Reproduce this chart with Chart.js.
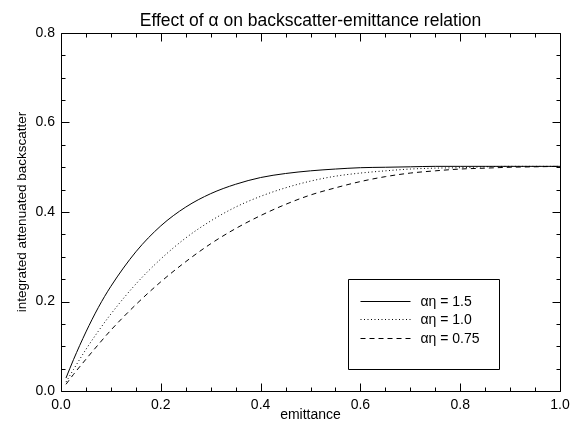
<!DOCTYPE html>
<html><head><meta charset="utf-8">
<script src="https://cdn.jsdelivr.net/npm/chart.js@4.4.1/dist/chart.umd.min.js"></script>
<style>html,body{margin:0;padding:0;background:#fff}#wrap{width:580px;height:424px}</style>
</head><body><div id="wrap"><canvas id="c" width="580" height="424"></canvas></div>
<script>
const emittance = [0.01,0.025,0.05,0.075,0.1,0.15,0.2,0.25,0.3,0.35,0.4,0.45,0.5,0.55,0.6,0.65,0.7,0.75,0.8,0.85,0.9,0.95,1.0];
const backscatterAE150 = [0.029,0.070,0.132,0.187,0.234,0.311,0.369,0.411,0.441,0.462,0.477,0.486,0.492,0.496,0.499,0.500,0.501,0.502,0.502,0.502,0.502,0.502,0.502];
const backscatterAE100 = [0.020,0.048,0.093,0.134,0.172,0.239,0.295,0.342,0.380,0.411,0.435,0.454,0.469,0.480,0.487,0.492,0.496,0.498,0.499,0.501,0.502,0.502,0.502];
const backscatterAE075 = [0.015,0.037,0.071,0.104,0.136,0.193,0.244,0.289,0.329,0.363,0.392,0.417,0.438,0.454,0.468,0.479,0.487,0.492,0.496,0.498,0.500,0.501,0.502];
const seriesLabels = ['αη = 1.5', 'αη = 1.0', 'αη = 0.75'];
const xTickValues = [0, 0.2, 0.4, 0.6, 0.8, 1.0];
const yTickValues = [0, 0.2, 0.4, 0.6, 0.8];
const titleText = 'Effect of α on backscatter-emittance relation';
const xTitleText = 'emittance';
const yTitleText = 'integrated attenuated backscatter';

const FONT = "'Liberation Sans', Arial, Helvetica, sans-serif";
Chart.defaults.font.family = FONT;
Chart.defaults.color = '#000';

const dashes = [[], [1, 2.5], [5, 4]];
const seriesValues = [backscatterAE150, backscatterAE100, backscatterAE075];

const datasets = seriesValues.map((vals, k) => ({
  label: seriesLabels[k],
  data: emittance.map((x, i) => ({x: x, y: vals[i]})),
  borderColor: '#000',
  borderWidth: 1,
  borderDash: dashes[k],
  pointRadius: 0,
  fill: false,
  cubicInterpolationMode: 'monotone'
}));

const framePlugin = {
  id: 'frame',
  afterDraw(chart) {
    const ctx = chart.ctx;
    const a = chart.chartArea;
    const xs = chart.scales.x, ys = chart.scales.y;
    ctx.save();
    ctx.strokeStyle = '#000';
    ctx.lineWidth = 1;
    ctx.setLineDash([]);
    const L = Math.round(a.left) + 0.5, R = Math.round(a.right) + 0.5;
    const T = Math.round(a.top) + 0.5, B = Math.round(a.bottom) + 0.5;
    ctx.beginPath();
    ctx.rect(L, T, R - L, B - T);
    ctx.stroke();
    // inward ticks every 0.05
    ctx.beginPath();
    for (let i = 0; i <= 20; i++) {
      const v = i * 0.05;
      const major = i % 4 === 0;
      const len = major ? 8 : 4;
      const px = Math.round(xs.getPixelForValue(v)) + 0.5;
      ctx.moveTo(px, B); ctx.lineTo(px, B - len);
      ctx.moveTo(px, T); ctx.lineTo(px, T + len);
    }
    for (let i = 0; i <= 16; i++) {
      const v = i * 0.05;
      const major = i % 4 === 0;
      const len = major ? 8 : 4;
      const py = Math.round(ys.getPixelForValue(v)) + 0.5;
      ctx.moveTo(L, py); ctx.lineTo(L + len, py);
      ctx.moveTo(R, py); ctx.lineTo(R - len, py);
    }
    ctx.stroke();

    // title centred over the plot
    ctx.fillStyle = '#000';
    ctx.font = '17.5px ' + FONT;
    ctx.textAlign = 'center';
    ctx.textBaseline = 'alphabetic';
    ctx.fillText(titleText, (a.left + a.right) / 2, 26);

    // legend box
    const bx = Math.round(xs.getPixelForValue(0.575)) + 0.5;
    const bx2 = Math.round(xs.getPixelForValue(0.877)) + 0.5;
    const by = Math.round(ys.getPixelForValue(0.25)) + 0.5;
    const by2 = Math.round(ys.getPixelForValue(0.05)) + 0.5;
    ctx.fillStyle = '#fff';
    ctx.fillRect(bx, by, bx2 - bx, by2 - by);
    ctx.beginPath();
    ctx.rect(bx, by, bx2 - bx, by2 - by);
    ctx.stroke();
    const rows = [301.5, 319.5, 338.5];
    ctx.font = '14px ' + FONT;
    ctx.textBaseline = 'middle';
    ctx.textAlign = 'left';
    chart.data.datasets.forEach((ds, k) => {
      ctx.setLineDash(ds.borderDash || []);
      ctx.beginPath();
      ctx.moveTo(bx + 12, rows[k]);
      ctx.lineTo(bx + 62, rows[k]);
      ctx.stroke();
      ctx.setLineDash([]);
      ctx.fillStyle = '#000';
      ctx.fillText(ds.label, bx + 72, rows[k] + 0.5);
    });
    ctx.restore();
  }
};

new Chart(document.getElementById('c'), {
  type: 'line',
  data: { datasets: datasets },
  options: {
    responsive: false,
    animation: false,
    devicePixelRatio: 1,
    layout: { padding: { left: 0, right: 20, top: 33, bottom: 0 } },
    plugins: {
      legend: { display: false },
      tooltip: { enabled: false },
      title: { display: false }
    },
    scales: {
      x: {
        type: 'linear',
        min: 0, max: 1,
        grid: { display: false, drawTicks: false },
        border: { display: false },
        afterBuildTicks(scale) { scale.ticks = xTickValues.map(v => ({value: v})); },
        afterFit(scale) { scale.height = 33; },
        ticks: {
          padding: 6,
          maxRotation: 0,
          font: { size: 14 },
          callback: (v) => Number(v).toFixed(1)
        },
        title: {
          display: true,
          text: xTitleText,
          font: { size: 14 },
          padding: { top: 0, bottom: 0 }
        }
      },
      y: {
        type: 'linear',
        min: 0, max: 0.8,
        grid: { display: false, drawTicks: false },
        border: { display: false },
        afterBuildTicks(scale) { scale.ticks = yTickValues.map(v => ({value: v})); },
        afterFit(scale) { scale.width = 61; },
        ticks: {
          padding: 6,
          font: { size: 14 },
          callback: (v) => Number(v).toFixed(1)
        },
        title: {
          display: true,
          text: yTitleText,
          font: { size: 13.5 },
          padding: { top: 14, bottom: 0 }
        }
      }
    }
  },
  plugins: [framePlugin]
});
</script>
</body></html>
